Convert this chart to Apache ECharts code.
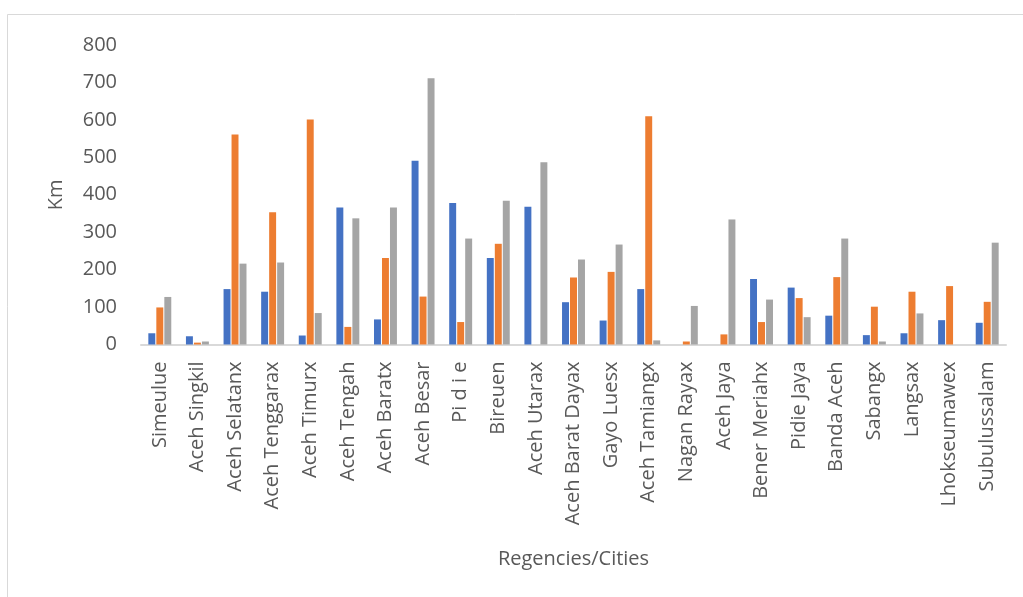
<!DOCTYPE html>
<html>
<head>
<meta charset="utf-8">
<script src="https://cdn.jsdelivr.net/npm/echarts@6/dist/echarts.min.js"></script>
<style>
  html, body { margin: 0; padding: 0; background: #fff; }
  #chart { width: 1023px; height: 597px; }
</style>
</head>
<body>
<div id="chart"></div>
<script>
// Regencies and cities of Aceh
var categories = [
  'Simeulue', 'Aceh Singkil', 'Aceh Selatanx', 'Aceh Tenggarax', 'Aceh Timurx',
  'Aceh Tengah', 'Aceh Baratx', 'Aceh Besar', 'Pi d i e', 'Bireuen',
  'Aceh Utarax', 'Aceh Barat Dayax', 'Gayo Luesx', 'Aceh Tamiangx', 'Nagan Rayax',
  'Aceh Jaya', 'Bener Meriahx', 'Pidie Jaya', 'Banda Aceh', 'Sabangx',
  'Langsax', 'Lhokseumawex', 'Subulussalam'
];

// Road length (km) per series
var seriesBlue = [30, 22, 148, 141, 24, 366, 67, 491, 378, 231, 368, 113, 64, 148, 0, 0, 175, 152, 77, 25, 30, 65, 58];
var seriesOrange = [99, 5, 561, 353, 601, 47, 231, 128, 60, 269, 0, 179, 194, 610, 8, 27, 60, 124, 180, 101, 141, 156, 114];
var seriesGray = [127, 8, 216, 219, 84, 337, 366, 711, 283, 384, 487, 227, 267, 11, 103, 334, 120, 73, 283, 8, 83, 0, 272];

var yTicks = { min: 0, max: 800, interval: 100 };

var font = 'Open Sans';
var chart = echarts.init(document.getElementById('chart'), null, { renderer: 'canvas' });

function barSeries(data, color) {
  return {
    type: 'bar',
    data: data,
    barGap: '15%',
    barCategoryGap: '39%',
    itemStyle: { color: color },
    silent: true
  };
}

chart.setOption({
  animation: false,
  backgroundColor: '#ffffff',
  graphic: [{
    type: 'rect',
    shape: { x: 7.5, y: 14.5, width: 1100, height: 700 },
    style: { fill: 'none', stroke: '#d9d9d9', lineWidth: 1 },
    silent: true
  }],
  grid: { left: 141, right: 17, top: 45, bottom: 252.5 },
  xAxis: {
    type: 'category',
    data: categories,
    name: 'Regencies/Cities',
    nameLocation: 'middle',
    nameGap: 205,
    nameTextStyle: { fontFamily: font, fontSize: 20, color: '#595959' },
    axisLine: { lineStyle: { color: '#d9d9d9', width: 2 } },
    axisTick: { show: false },
    axisLabel: {
      rotate: 90,
      interval: 0,
      margin: 17,
      fontFamily: font,
      fontSize: 20,
      color: '#595959'
    }
  },
  yAxis: {
    type: 'value',
    min: yTicks.min,
    max: yTicks.max,
    interval: yTicks.interval,
    name: 'Km',
    nameLocation: 'middle',
    nameGap: 75,
    nameTextStyle: { fontFamily: font, fontSize: 20, color: '#595959' },
    axisLine: { show: false },
    axisTick: { show: false },
    splitLine: { show: false },
    axisLabel: { fontFamily: font, fontSize: 20, color: '#595959', margin: 24 }
  },
  series: [
    barSeries(seriesBlue, '#4472C4'),
    barSeries(seriesOrange, '#ED7D31'),
    barSeries(seriesGray, '#A5A5A5')
  ]
});
</script>
</body>
</html>
